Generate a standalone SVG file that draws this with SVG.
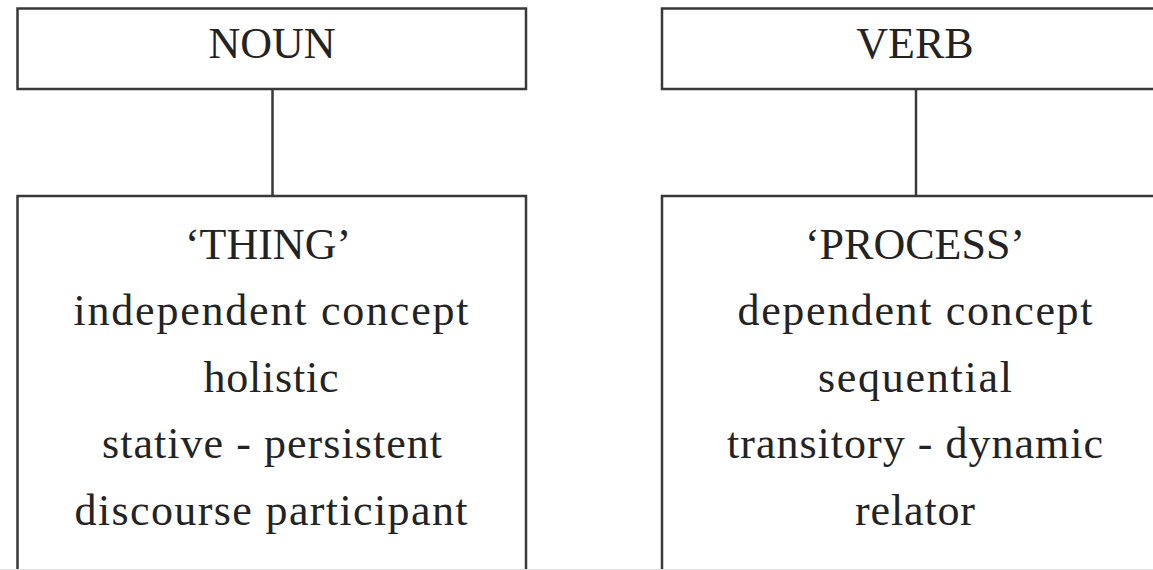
<svg xmlns="http://www.w3.org/2000/svg" width="1153" height="570" viewBox="0 0 1153 570">
  <style>
    .box { fill: #ffffff; stroke: #383838; stroke-width: 2.5; }
    .link { stroke: #383838; stroke-width: 2.5; fill: none; }
    .lbl { font-family: "Liberation Serif", "Times New Roman", serif; font-size: 44px; fill: #232323; text-anchor: middle; }
  </style>
  <rect width="1153" height="570" fill="#ffffff"/>

  <!-- connectors between word class and its semantic profile -->
  <g id="connectors">
    <line class="link" x1="272.5" y1="89" x2="272.5" y2="196"/>
    <line class="link" x1="916" y1="89" x2="916" y2="196"/>
  </g>

  <g id="noun">
    <rect class="box" x="17.5" y="8.5" width="508.5" height="80.5"/>
    <text class="lbl" x="272" y="58">NOUN</text>
  </g>

  <g id="verb">
    <rect class="box" x="662" y="8.5" width="520" height="80.5"/>
    <text class="lbl" x="915" y="58">VERB</text>
  </g>

  <g id="thing">
    <rect class="box" x="17.5" y="196" width="508.5" height="400"/>
    <text class="lbl" x="268" y="259">‘THING’</text>
    <text class="lbl" x="271" y="325" textLength="395">independent concept</text>
    <text class="lbl" x="271" y="392" textLength="135">holistic</text>
    <text class="lbl" x="272" y="458" textLength="340">stative - persistent</text>
    <text class="lbl" x="271" y="525" textLength="393">discourse participant</text>
  </g>

  <g id="process">
    <rect class="box" x="662" y="196" width="520" height="400"/>
    <text class="lbl" x="915" y="259">‘PROCESS’</text>
    <text class="lbl" x="915" y="325" textLength="355">dependent concept</text>
    <text class="lbl" x="915" y="392" textLength="194">sequential</text>
    <text class="lbl" x="915" y="458" textLength="376">transitory - dynamic</text>
    <text class="lbl" x="915" y="525" textLength="120">relator</text>
  </g>

  <!-- faint lower edge rule -->
  <line x1="0" y1="569.5" x2="1153" y2="569.5" stroke="#e2e2e2" stroke-width="1"/>
</svg>
